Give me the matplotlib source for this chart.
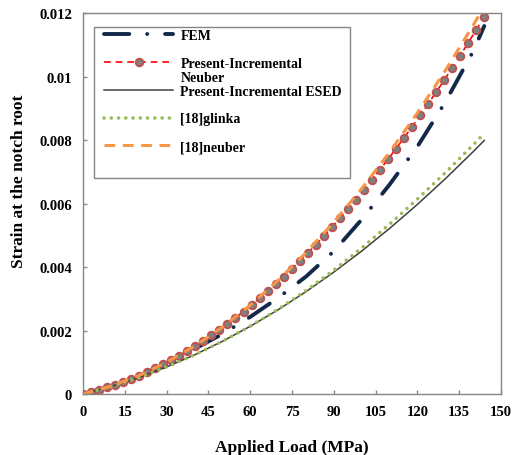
import matplotlib as mpl
mpl.use('Agg')
import matplotlib.pyplot as plt
from matplotlib.patches import Rectangle
from matplotlib.ticker import FuncFormatter

plt.rcParams['font.family'] = 'Liberation Serif'
plt.rcParams['font.weight'] = 'bold'

# Applied load (MPa) and strain at notch root
load_neuber = [0, 2.88, 5.76, 8.64, 11.52, 14.4, 17.28, 20.16, 23.04, 25.92,
               28.8, 31.68, 34.56, 37.44, 40.32, 43.2, 46.08, 48.96, 51.84, 54.72,
               57.6, 60.48, 63.36, 66.24, 69.12, 72.0, 74.88, 77.76, 80.64, 83.52,
               86.4, 89.28, 92.16, 95.04, 97.92, 100.8, 103.68, 106.56, 109.44, 112.32,
               115.2, 118.08, 120.96, 123.84, 126.72, 129.6, 132.48, 135.36, 138.24, 141.12,
               144.0]
strain_neuber = [0, 0.00006, 0.00013, 0.00021, 0.00029, 0.00038, 0.00048, 0.00058, 0.00069, 0.00081,
                 0.00094, 0.00107, 0.00121, 0.00136, 0.00152, 0.00168, 0.00185, 0.00202, 0.00221, 0.00240,
                 0.00260, 0.00280, 0.00302, 0.00324, 0.00346, 0.00370, 0.00394, 0.00419, 0.00444, 0.00471,
                 0.00498, 0.00525, 0.00554, 0.00583, 0.00613, 0.00644, 0.00675, 0.00707, 0.00740, 0.00773,
                 0.00808, 0.00842, 0.00878, 0.00914, 0.00952, 0.00989, 0.01028, 0.01067, 0.01107, 0.01148,
                 0.01189]

load_fem = [0, 10, 20, 30, 40, 50, 60, 70, 80, 90, 100, 110, 120, 130, 140, 144]
strain_fem = [0, 0.00024, 0.00056, 0.00096, 0.00142, 0.00189, 0.00243, 0.00303, 0.0037,
              0.0045, 0.0055, 0.0066, 0.0078, 0.0092, 0.0108, 0.0116]

load_esed = [0, 10, 20, 30, 40, 50, 60, 70, 80, 90, 100, 110, 120, 130, 140, 144]
strain_esed = [0, 0.000237, 0.000521, 0.000853, 0.001232, 0.001659, 0.002133, 0.002655,
               0.003224, 0.003841, 0.004505, 0.005217, 0.005976, 0.006783, 0.007637, 0.007992]

load_glinka = [0, 10, 20, 30, 40, 50, 60, 70, 80, 90, 100, 110, 120, 130, 140, 144]
strain_glinka = [0, 0.000237, 0.000521, 0.000853, 0.001232, 0.001659, 0.002135, 0.002668,
                 0.003256, 0.003902, 0.0046, 0.005353, 0.006143, 0.006973, 0.007851, 0.008216]

load_ref_neuber = [0, 10, 20, 30, 40, 50, 60, 70, 80, 90, 100, 110, 120, 130, 140, 143]
strain_ref_neuber = [0, 0.000245, 0.000578, 0.000999, 0.00151, 0.00211, 0.0028, 0.00358,
                     0.004452, 0.005416, 0.006471, 0.007618, 0.008859, 0.010193, 0.011621, 0.012068]

x_ticks = [0, 15, 30, 45, 60, 75, 90, 105, 120, 135, 150]
y_ticks = [0, 0.002, 0.004, 0.006, 0.008, 0.01, 0.012]

fig = plt.figure(figsize=(5.15, 4.56), dpi=100)
ax = fig.add_axes([0.1612, 0.1338, 0.8116, 0.8348])

ax.plot(load_fem, strain_fem, color='#14294a', lw=2.8,
        linestyle=(0, (6.5, 4.6, 0.01, 4.6)), dash_capstyle='round', label='FEM')
ax.plot(load_neuber, strain_neuber, color='#ff0000', lw=1.2, linestyle=(0, (4, 3)),
        marker='o', markersize=5.5, markerfacecolor='#808080', markeredgecolor='#c0504d',
        markeredgewidth=1.3, label='Present-Incremental')
ax.plot(load_esed, strain_esed, color='#404040', lw=1.1, label='Present-Incremental ESED')
ax.plot(load_glinka, strain_glinka, color='#9bbb59', lw=2.6,
        linestyle=(0, (0.01, 2.0)), dash_capstyle='round', label='[18]glinka')
ax.plot(load_ref_neuber, strain_ref_neuber, color='#f79646', lw=2.2,
        linestyle=(0, (3.5, 2.5)), label='[18]neuber')

ax.set_xlim(0, 150)
ax.set_ylim(0, 0.012)
ax.set_xticks(x_ticks)
ax.set_yticks(y_ticks)
ax.yaxis.set_major_formatter(FuncFormatter(lambda v, p: f'{v:g}'))

for s in ax.spines.values():
    s.set_color('#868686')
    s.set_linewidth(1.0)
ax.tick_params(direction='in', length=3, width=1, color='#868686', labelsize=10.5)
ax.tick_params(axis='x', pad=8)
ax.tick_params(axis='y', pad=8)

ax.set_xlabel('Applied Load (MPa)', fontsize=12.5, fontweight='bold', labelpad=15)
ax.set_ylabel('Strain at the notch root', fontsize=12.5, fontweight='bold')
ax.yaxis.set_label_coords(-0.133, 0.562)

# legend frame (Excel style, extra room at bottom)
ax.add_patch(Rectangle((0.0263, 0.5665), 0.6124, 0.3965, transform=ax.transAxes,
                       facecolor='white', edgecolor='#868686', lw=1.0, zorder=4))
leg = ax.legend(loc='upper left', bbox_to_anchor=(0.05, 0.958), borderaxespad=0,
                borderpad=0, frameon=False, fontsize=10, handlelength=5,
                handletextpad=0.5, labelspacing=1.06)
leg.set_zorder(5)
for t in leg.get_texts():
    t.set_fontweight('bold')

ax.annotate('Neuber', xy=(0, 0), xycoords=leg.get_texts()[1], xytext=(0, -1),
            textcoords='offset points', ha='left', va='top', fontsize=10,
            fontweight='bold', zorder=6)

plt.savefig('out.png', dpi=100)
